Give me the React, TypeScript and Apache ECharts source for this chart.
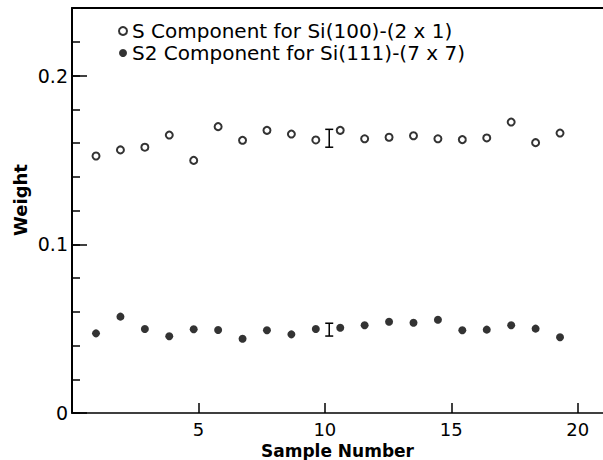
import React, { useEffect, useRef } from "react";
import * as echarts from "echarts";

const sampleNumbers = [1, 2, 3, 4, 5, 6, 7, 8, 9, 10, 11, 12, 13, 14, 15, 16, 17, 18, 19, 20];
const sWeights = [0.1523, 0.1559, 0.1575, 0.1647, 0.1497, 0.1697, 0.1616, 0.1675, 0.1653, 0.1618, 0.1675, 0.1625, 0.1634, 0.1643, 0.1625, 0.162, 0.163, 0.1724, 0.1602, 0.1659];
const s2Weights = [0.0472, 0.0571, 0.0498, 0.0455, 0.0496, 0.0492, 0.044, 0.049, 0.0466, 0.0498, 0.0505, 0.052, 0.0541, 0.0535, 0.0553, 0.049, 0.0494, 0.052, 0.05, 0.0449];
// error bars: [sample position, low, high]
const sErrorBar = [10.55, 0.1575, 0.1681];
const s2ErrorBar = [10.55, 0.0456, 0.0532];
const xTickValues = [5, 10, 15, 20];
const yLabelValues = [0, 0.1, 0.2];
const seriesNames = ["S Component for Si(100)-(2 x 1)", "S2 Component for Si(111)-(7 x 7)"];
const xAxisName = "Sample Number";
const yAxisName = "Weight";

const FONT = "DejaVu Sans";

export default function App() {
  const ref = useRef<HTMLDivElement>(null);
  useEffect(() => {
    if (!ref.current) return;
    const chart = echarts.init(ref.current, null, { renderer: "svg" });
    const errRender = (params: any, api: any) => {
      const lo = api.coord([api.value(0), api.value(1)]);
      const hi = api.coord([api.value(0), api.value(2)]);
      const w = 4;
      const st = { stroke: "#000", lineWidth: 1.5 };
      return {
        type: "group",
        children: [
          { type: "line", shape: { x1: lo[0], y1: lo[1], x2: hi[0], y2: hi[1] }, style: st },
          { type: "line", shape: { x1: lo[0] - w, y1: lo[1], x2: lo[0] + w, y2: lo[1] }, style: st },
          { type: "line", shape: { x1: hi[0] - w, y1: hi[1], x2: hi[0] + w, y2: hi[1] }, style: st },
        ],
      };
    };
    chart.setOption({
      animation: false,
      backgroundColor: "#fff",
      grid: { left: 72, right: 0, top: 8, bottom: 47, outerBoundsMode: "none", containLabel: false },
      legend: {
        orient: "vertical",
        left: 118,
        top: 21,
        padding: 0,
        itemWidth: 8,
        itemHeight: 8,
        itemGap: 2,
        data: seriesNames,
        textStyle: { fontFamily: FONT, fontSize: 20, color: "#000" },
      },
      xAxis: [
        {
          type: "value",
          min: 0,
          max: 21,
          interval: 5,
          position: "bottom",
          splitLine: { show: false },
          axisLine: { lineStyle: { color: "#000", width: 1.5 } },
          axisTick: { inside: true, length: 10, customValues: xTickValues, lineStyle: { color: "#000", width: 1.5 } },
          axisLabel: { customValues: xTickValues, margin: 7, fontFamily: FONT, fontSize: 18, color: "#000" },
          name: xAxisName,
          nameLocation: "middle",
          nameGap: 28,
          nameTextStyle: { fontFamily: FONT, fontSize: 17, fontWeight: "bold", color: "#000" },
        },
        {
          type: "value",
          min: 0.017,
          max: 21.76,
          show: false,
        },
        {
          type: "value",
          min: 0,
          max: 21,
          position: "top",
          splitLine: { show: false },
          axisLine: { lineStyle: { color: "#000", width: 2 } },
          axisTick: { show: false },
          axisLabel: { show: false },
        },
      ],
      yAxis: [
        {
          type: "value",
          min: 0,
          max: 0.24,
          interval: 0.1,
          splitLine: { show: false },
          axisLine: { lineStyle: { color: "#000", width: 2 } },
          axisTick: { inside: true, length: 15, customValues: yLabelValues, lineStyle: { color: "#000", width: 1.5 } },
          axisLabel: {
            customValues: yLabelValues,
            margin: 4,
            fontFamily: FONT,
            fontSize: 19,
            color: "#000",
            formatter: (v: number) => (v === 0 ? "0" : String(Math.round(v * 10) / 10)),
          },
        },
        {
          type: "value",
          min: 0,
          max: 0.24,
          interval: 0.02,
          position: "left",
          splitLine: { show: false },
          axisLine: { show: false },
          axisTick: { inside: true, length: 8, lineStyle: { color: "#000", width: 1.5 } },
          axisLabel: { show: false },
        },
      ],
      graphic: [
        {
          type: "text",
          x: 20,
          y: 200,
          rotation: Math.PI / 2,
          style: {
            text: yAxisName,
            fontFamily: FONT,
            fontSize: 18,
            fontWeight: "bold",
            fill: "#000",
            align: "center",
            verticalAlign: "middle",
          },
        },
      ],
      series: [
        {
          name: seriesNames[0],
          type: "scatter",
          xAxisIndex: 1,
          symbol: "emptyCircle",
          symbolSize: 7,
          itemStyle: { color: "#000", borderColor: "#000", borderWidth: 1.6 },
          data: sampleNumbers.map((n, i) => [n, sWeights[i]]),
        },
        {
          name: seriesNames[1],
          type: "scatter",
          xAxisIndex: 1,
          symbol: "circle",
          symbolSize: 8,
          itemStyle: { color: "#000" },
          data: sampleNumbers.map((n, i) => [n, s2Weights[i]]),
        },
        {
          type: "custom",
          xAxisIndex: 1,
          renderItem: errRender,
          data: [sErrorBar, s2ErrorBar],
          z: 3,
        },
      ],
    });
    return () => chart.dispose();
  }, []);
  return <div ref={ref} style={{ position: "fixed", left: 0, top: 0, width: 603, height: 460 }} />;
}
